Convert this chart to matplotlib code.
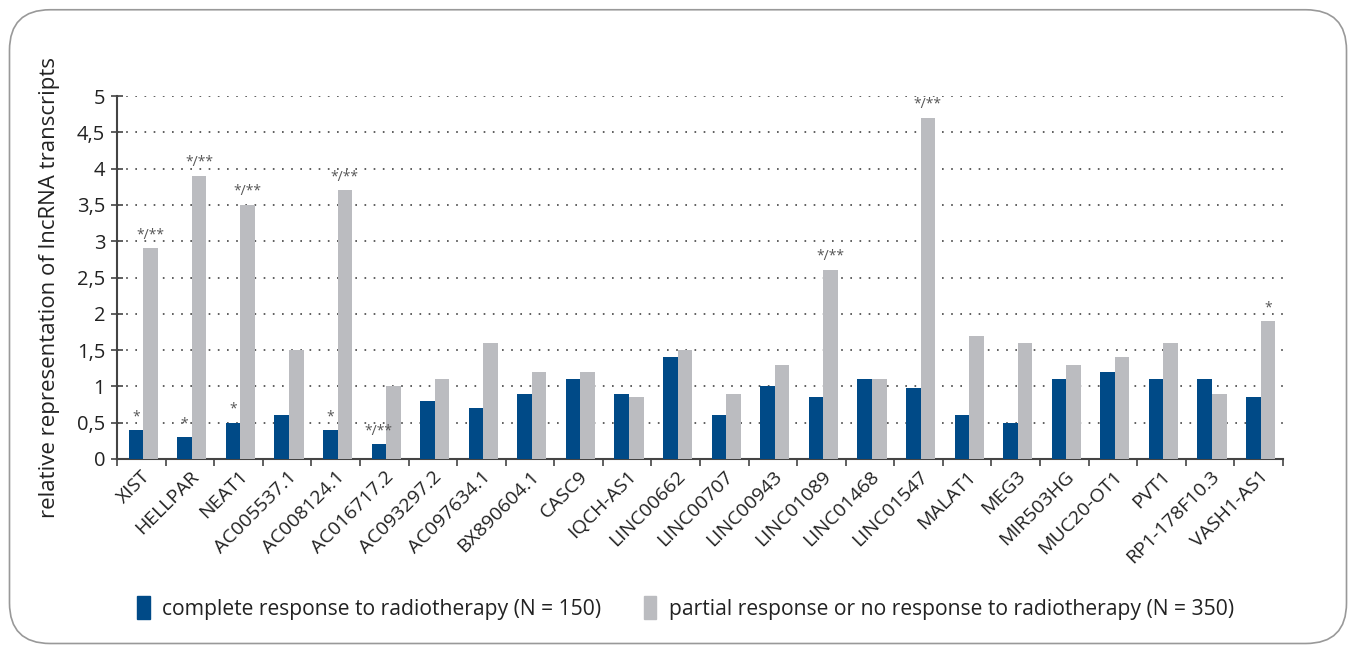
import matplotlib
matplotlib.use("Agg")
import matplotlib.pyplot as plt
import matplotlib.transforms as mtransforms
from matplotlib.patches import FancyBboxPatch, Patch
from matplotlib.ticker import FuncFormatter
import numpy as np

plt.rcParams["font.family"] = ["Open Sans", "DejaVu Sans"]

GENES = ["XIST", "HELLPAR", "NEAT1", "AC005537.1", "AC008124.1", "AC016717.2",
         "AC093297.2", "AC097634.1", "BX890604.1", "CASC9", "IQCH-AS1",
         "LINC00662", "LINC00707", "LINC00943", "LINC01089", "LINC01468",
         "LINC01547", "MALAT1", "MEG3", "MIR503HG", "MUC20-OT1", "PVT1",
         "RP1-178F10.3", "VASH1-AS1"]
COMPLETE = [0.4, 0.3, 0.5, 0.6, 0.4, 0.2, 0.8, 0.7, 0.9, 1.1, 0.9, 1.4,
            0.6, 1.0, 0.85, 1.1, 0.98, 0.6, 0.5, 1.1, 1.2, 1.1, 1.1, 0.85]
PARTIAL = [2.9, 3.9, 3.5, 1.5, 3.7, 1.0, 1.1, 1.6, 1.2, 1.2, 0.85, 1.5,
           0.9, 1.3, 2.6, 1.1, 4.7, 1.7, 1.6, 1.3, 1.4, 1.6, 0.9, 1.9]
# significance marks: (gene index, series, text)
MARKS = [(0, "c", "*"), (0, "p", "*/**"), (1, "c", "*"), (1, "p", "*/**"),
         (2, "c", "*"), (2, "p", "*/**"), (4, "c", "*"), (4, "p", "*/**"),
         (5, "c", "*/**"), (14, "p", "*/**"), (16, "p", "*/**"),
         (23, "p", "*")]

BLUE = "#004a87"
GREY = "#bbbcc0"
DARK = "#444444"

fig = plt.figure(figsize=(13.56, 6.5), dpi=100)
fig.patches.append(FancyBboxPatch((0.007, 0.01), 0.986, 0.975,
                                  boxstyle="round,pad=0,rounding_size=0.03",
                                  transform=fig.transFigure, fill=False,
                                  edgecolor="#999999", linewidth=1.2,
                                  mutation_aspect=2.08))
ax = fig.add_axes([117 / 1356, 1 - 459 / 650, (1283 - 117) / 1356, (459 - 96) / 650])

x = np.arange(len(GENES))
w = 0.3
ax.bar(x - w / 2 + 0.04, COMPLETE, w, color=BLUE, zorder=3)
ax.bar(x + w / 2 + 0.04, PARTIAL, w, color=GREY, zorder=3)

for i, s, t in MARKS:
    if s == "c":
        xx, yy = x[i] - w / 2 + 0.04, COMPLETE[i]
    else:
        xx, yy = x[i] + w / 2 + 0.04, PARTIAL[i]
    ax.text(xx, yy + 0.08, t, ha="center", va="bottom", fontsize=10,
            color="#555555", zorder=4)

ax.set_xlim(-0.5, len(GENES) - 0.5)
ax.set_ylim(0, 5)
ax.set_yticks(np.arange(0, 5.01, 0.5))
ax.yaxis.set_major_formatter(FuncFormatter(lambda v, p: f"{v:g}".replace(".", ",")))
ax.yaxis.grid(True, linestyle=(0, (1, 4.5)), color=DARK, linewidth=1.2, zorder=0)

ax.set_xticks(x)
ax.set_xticklabels(GENES, rotation=45, ha="right", rotation_mode="anchor",
                   fontsize=14, color="#222222")
shift = mtransforms.ScaledTranslation(9 / 100, 0, fig.dpi_scale_trans)
for lab in ax.get_xticklabels():
    lab.set_transform(lab.get_transform() + shift)
ax.set_xticks(np.arange(-0.5, len(GENES)), minor=True)
ax.tick_params(axis="x", which="major", length=0, pad=6)
ax.tick_params(axis="x", which="minor", length=5, color=DARK, width=1.2)
ax.tick_params(axis="y", direction="inout", length=9, color=DARK, width=1.2,
               labelsize=14.5, labelcolor="#222222", pad=4)

for sp in ["top", "right"]:
    ax.spines[sp].set_visible(False)
for sp in ["left", "bottom"]:
    ax.spines[sp].set_color(DARK)
    ax.spines[sp].set_linewidth(1.5)

fig.text(50 / 1356, 1 - 287 / 650, "relative representation of lncRNA transcripts",
         rotation=90, ha="center", va="center", fontsize=16, color="#222222")

handles = [Patch(color=BLUE, label="complete response to radiotherapy (N = 150)"),
           Patch(color=GREY, label="partial response or no response to radiotherapy (N = 350)")]
fig.legend(handles=handles, loc="center left", bbox_to_anchor=(118 / 1356, 1 - 608 / 650),
           ncol=2, frameon=False, fontsize=15.2, handlelength=0.6, handleheight=1.3,
           handletextpad=0.6, columnspacing=2.0, labelcolor="#222222")

fig.savefig("out.png", dpi=100)
